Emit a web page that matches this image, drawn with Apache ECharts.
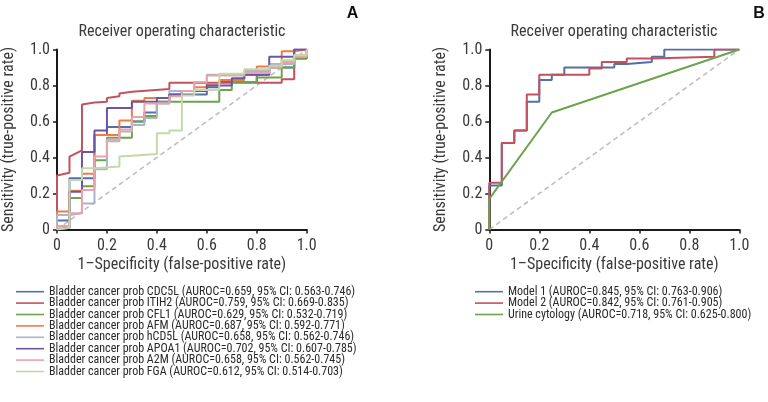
<!DOCTYPE html>
<html><head><meta charset="utf-8">
<script src="https://cdn.jsdelivr.net/npm/echarts@6/dist/echarts.min.js"></script>
<style>html,body{margin:0;padding:0;background:#fff}#c{width:768px;height:402px}</style>
</head><body><div id="c"></div>
<script>
const FONT = "'Liberation Sans Narrow','Arial Narrow','Roboto Condensed','Liberation Sans',sans-serif";
const titleText = 'Receiver operating characteristic';
const xName = '1\u2013Specificity (false-positive rate)';
const yName = 'Sensitivity (true-positive rate)';
const panelLabels = ['A', 'B'];
const tickLabels = {0: '0', 0.2: '0.2', 0.4: '0.4', 0.6: '0.6', 0.8: '0.8', 1: '1.0'};

// Panel A series names
const namesA = [
  'Bladder cancer prob CDC5L (AUROC=0.659, 95% CI: 0.563-0.746)',
  'Bladder cancer prob ITIH2 (AUROC=0.759, 95% CI: 0.669-0.835)',
  'Bladder cancer prob CFL1 (AUROC=0.629, 95% CI: 0.532-0.719)',
  'Bladder cancer prob AFM (AUROC=0.687, 95% CI: 0.592-0.771)',
  'Bladder cancer prob hCD5L (AUROC=0.658, 95% CI: 0.562-0.746)',
  'Bladder cancer prob APOA1 (AUROC=0.702, 95% CI: 0.607-0.785)',
  'Bladder cancer prob A2M (AUROC=0.658, 95% CI: 0.562-0.745)',
  'Bladder cancer prob FGA (AUROC=0.612, 95% CI: 0.514-0.703)'
];
// ROC points [FPR, TPR]
const rocCDC5L = [[0,0],[0,0.05],[0.05,0.05],[0.05,0.285],[0.1,0.285],[0.15,0.285],[0.15,0.525],[0.2,0.525],[0.2,0.57],[0.3,0.57],[0.3,0.6],[0.35,0.6],[0.35,0.65],[0.4,0.65],[0.4,0.71],[0.45,0.71],[0.45,0.75],[0.6,0.75],[0.6,0.79],[0.65,0.79],[0.65,0.82],[0.8,0.82],[0.8,0.86],[0.85,0.86],[0.85,0.9],[0.95,0.9],[0.95,1],[1,1]];
const rocITIH2 = [[0,0],[0,0.3],[0.05,0.315],[0.05,0.405],[0.1,0.44],[0.1,0.695],[0.15,0.705],[0.2,0.71],[0.2,0.73],[0.25,0.74],[0.25,0.755],[0.3,0.765],[0.45,0.78],[0.45,0.815],[0.9,0.815],[0.9,0.835],[0.95,0.835],[0.95,0.95],[1,0.95],[1,1]];
const rocCFL1 = [[0,0],[0,0.01],[0.05,0.01],[0.05,0.175],[0.1,0.175],[0.1,0.24],[0.15,0.24],[0.15,0.385],[0.2,0.385],[0.2,0.51],[0.3,0.51],[0.3,0.6],[0.35,0.6],[0.35,0.63],[0.4,0.63],[0.4,0.71],[0.65,0.71],[0.65,0.775],[0.7,0.775],[0.7,0.82],[0.8,0.82],[0.8,0.845],[0.9,0.845],[0.9,0.9],[0.95,0.9],[0.95,0.95],[1,0.95],[1,1]];
const rocAFM = [[0,0],[0,0.1],[0.05,0.1],[0.05,0.215],[0.1,0.215],[0.1,0.31],[0.15,0.31],[0.15,0.525],[0.25,0.525],[0.25,0.605],[0.3,0.605],[0.3,0.715],[0.35,0.715],[0.35,0.73],[0.45,0.73],[0.45,0.745],[0.5,0.745],[0.5,0.77],[0.55,0.77],[0.55,0.79],[0.6,0.79],[0.6,0.81],[0.65,0.81],[0.65,0.83],[0.75,0.83],[0.75,0.86],[0.8,0.86],[0.8,0.905],[0.9,0.905],[0.9,0.99],[0.95,0.99],[0.95,1],[1,1]];
const rocHCD5L = [[0,0],[0,0.08],[0.05,0.08],[0.05,0.09],[0.1,0.09],[0.1,0.145],[0.15,0.145],[0.15,0.335],[0.2,0.335],[0.2,0.49],[0.25,0.49],[0.25,0.545],[0.3,0.545],[0.3,0.58],[0.35,0.58],[0.35,0.62],[0.4,0.62],[0.4,0.7],[0.45,0.7],[0.45,0.77],[0.55,0.77],[0.55,0.82],[0.6,0.82],[0.6,0.86],[0.75,0.86],[0.75,0.88],[0.85,0.88],[0.85,0.92],[0.95,0.92],[0.95,0.97],[1,0.97],[1,1]];
const rocAPOA1 = [[0,0],[0,0.01],[0.05,0.01],[0.05,0.21],[0.1,0.21],[0.1,0.43],[0.15,0.43],[0.15,0.55],[0.2,0.55],[0.2,0.675],[0.3,0.675],[0.3,0.71],[0.4,0.71],[0.4,0.73],[0.45,0.73],[0.45,0.75],[0.5,0.75],[0.5,0.77],[0.6,0.77],[0.6,0.8],[0.7,0.8],[0.7,0.84],[0.75,0.84],[0.75,0.86],[0.85,0.86],[0.85,0.96],[0.95,0.96],[0.95,1],[1,1]];
const rocA2M = [[0,0],[0,0.02],[0.05,0.02],[0.05,0.09],[0.1,0.09],[0.1,0.22],[0.15,0.22],[0.15,0.405],[0.2,0.405],[0.2,0.5],[0.25,0.5],[0.25,0.555],[0.3,0.555],[0.3,0.625],[0.35,0.625],[0.35,0.7],[0.45,0.7],[0.45,0.74],[0.5,0.74],[0.5,0.77],[0.55,0.77],[0.55,0.82],[0.6,0.82],[0.6,0.855],[0.75,0.855],[0.75,0.87],[0.85,0.87],[0.85,0.9],[0.9,0.9],[0.9,0.93],[0.95,0.93],[0.95,0.96],[1,0.96],[1,1]];
const rocFGA = [[0,0],[0,0.01],[0.05,0.01],[0.05,0.275],[0.1,0.275],[0.1,0.34],[0.15,0.34],[0.15,0.35],[0.25,0.35],[0.25,0.405],[0.3,0.41],[0.3,0.42],[0.4,0.42],[0.4,0.535],[0.45,0.535],[0.45,0.55],[0.5,0.55],[0.5,0.745],[0.55,0.745],[0.55,0.775],[0.65,0.775],[0.65,0.865],[0.75,0.865],[0.75,0.89],[0.85,0.89],[0.85,0.91],[0.9,0.91],[0.9,0.94],[0.95,0.94],[0.95,0.97],[1,0.97],[1,1]];

// Panel B
const namesB = [
  'Model 1 (AUROC=0.845, 95% CI: 0.763-0.906)',
  'Model 2 (AUROC=0.842, 95% CI: 0.761-0.905)',
  'Urine cytology (AUROC=0.718, 95% CI: 0.625-0.800)'
];
const rocModel1 = [[0,0],[0,0.245],[0.05,0.245],[0.05,0.48],[0.1,0.48],[0.1,0.55],[0.15,0.55],[0.15,0.71],[0.2,0.71],[0.2,0.83],[0.25,0.83],[0.25,0.86],[0.3,0.86],[0.3,0.9],[0.5,0.9],[0.5,0.92],[0.55,0.92],[0.55,0.93],[0.65,0.93],[0.65,0.96],[0.7,0.96],[0.7,1],[1,1]];
const rocModel2 = [[0,0],[0,0.26],[0.05,0.26],[0.05,0.48],[0.1,0.48],[0.1,0.55],[0.15,0.55],[0.15,0.75],[0.2,0.75],[0.2,0.86],[0.4,0.86],[0.4,0.895],[0.45,0.895],[0.45,0.93],[0.55,0.93],[0.55,0.95],[0.65,0.95],[0.65,0.96],[0.9,0.96],[0.9,1],[1,1]];
const rocCytology = [[0,0],[0,0.17],[0.25,0.65],[1,1]];
const chance = [[0,0],[1,1]];

const dataA = [rocCDC5L, rocITIH2, rocCFL1, rocAFM, rocHCD5L, rocAPOA1, rocA2M, rocFGA];
const dataB = [rocModel1, rocModel2, rocCytology];
const colorsA = ['#5470a6','#c4515f','#6da34d','#f07b44','#a9b5cb','#6a55a8','#eaa3ab','#c3d9a9'];
const colorsB = ['#5470a6','#c4515f','#6da34d'];

const TXT = '#3a3a3a';
function mkAxes(gi) {
  const lab = {fontFamily: FONT, fontSize: 16, color: TXT};
  return {
    x: {type:'value', gridIndex: gi, min: 0, max: 1, interval: 0.2,
      axisLine: {show: true, onZero: false, lineStyle: {color: '#1a1a1a', width: 2}},
      axisTick: {show: true, length: 4, lineStyle: {color: '#1a1a1a', width: 1.5}},
      splitLine: {show: false},
      axisLabel: Object.assign({margin: 8, formatter: v => tickLabels[Math.round(v*10)/10]}, lab),
      name: xName, nameLocation: 'middle', nameGap: 27, nameTextStyle: lab},
    y: {type:'value', gridIndex: gi, min: 0, max: 1, interval: 0.2,
      axisLine: {show: true, onZero: false, lineStyle: {color: '#1a1a1a', width: 2}},
      axisTick: {show: true, length: 4, lineStyle: {color: '#1a1a1a', width: 1.5}},
      splitLine: {show: false},
      axisLabel: Object.assign({margin: 7, formatter: v => tickLabels[Math.round(v*10)/10]}, lab),
      name: yName, nameLocation: 'middle', nameGap: 40, nameTextStyle: lab}
  };
}
const axA = mkAxes(0), axB = mkAxes(1);

const series = [];
series.push({type:'line', xAxisIndex:0, yAxisIndex:0, data: chance, symbol:'none', silent:true,
  lineStyle:{color:'#bfbfbf', width:1.6, type:[5,3.5]}, z:1});
namesA.forEach((n, i) => series.push({type:'line', name:n, xAxisIndex:0, yAxisIndex:0, data: dataA[i],
  symbol:'none', color: colorsA[i], lineStyle:{width:2, color: colorsA[i]}, z: 2}));
series.push({type:'line', xAxisIndex:1, yAxisIndex:1, data: chance, symbol:'none', silent:true,
  lineStyle:{color:'#bfbfbf', width:1.6, type:[5,3.5]}, z:1});
namesB.forEach((n, i) => series.push({type:'line', name:n, xAxisIndex:1, yAxisIndex:1, data: dataB[i],
  symbol:'none', color: colorsB[i], lineStyle:{width:2, color: colorsB[i]}, z: 2}));

const legText = {fontFamily: FONT, fontSize: 12, color: '#2a2a2a'};
const chart = echarts.init(document.getElementById('c'), null, {renderer: 'canvas'});
chart.setOption({
  animation: false,
  backgroundColor: '#fff',
  grid: [
    {left: 56.7, top: 49.5, width: 250, height: 180},
    {left: 489.3, top: 49.5, width: 250, height: 180}
  ],
  xAxis: [axA.x, axB.x],
  yAxis: [axA.y, axB.y],
  legend: [
    {data: namesA, orient: 'vertical', left: 16, top: 285.7, padding: 0, icon: 'rect', itemWidth: 28, itemHeight: 1.6, itemGap: -0.6,
      textStyle: legText, selectedMode: false},
    {data: namesB, orient: 'vertical', left: 475, top: 285.7, padding: 0, icon: 'rect', itemWidth: 28, itemHeight: 1.6, itemGap: -0.6,
      textStyle: legText, selectedMode: false}
  ],
  graphic: [
    {type:'text', x: 182, y: 32, style:{text: titleText, font: '16px ' + FONT, fill: TXT, textAlign:'center', textVerticalAlign:'middle'}},
    {type:'text', x: 614, y: 32, style:{text: titleText, font: '16px ' + FONT, fill: TXT, textAlign:'center', textVerticalAlign:'middle'}},
    {type:'text', x: 352.5, y: 14, style:{text: panelLabels[0], font: 'bold 16px Liberation Sans, Arial, sans-serif', fill: '#111', textAlign:'center', textVerticalAlign:'middle'}},
    {type:'text', x: 759, y: 14, style:{text: panelLabels[1], font: 'bold 16px Liberation Sans, Arial, sans-serif', fill: '#111', textAlign:'center', textVerticalAlign:'middle'}}
  ],
  series: series
});
</script></body></html>
